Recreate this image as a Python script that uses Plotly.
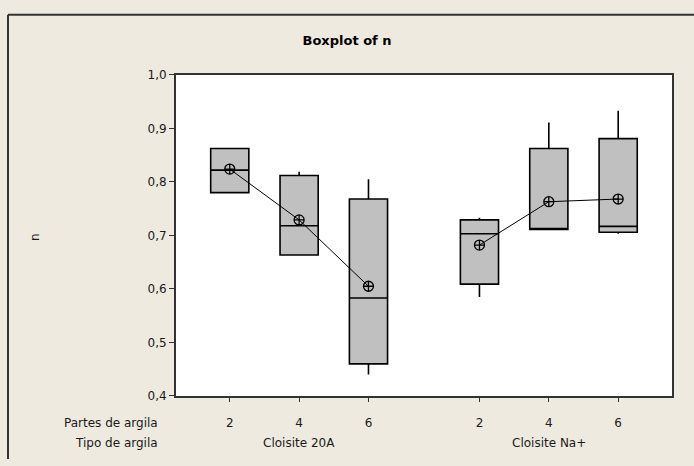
import plotly.graph_objects as go

# Data
group_names = ["Cloisite 20A", "Cloisite Na+"]
partes = ["2", "4", "6", "2", "4", "6"]
positions = [0, 1, 2, 3.6, 4.6, 5.6]
q1 = [0.780, 0.6635, 0.460, 0.609, 0.711, 0.706]
median = [0.822, 0.718, 0.583, 0.703, 0.713, 0.717]
q3 = [0.8625, 0.812, 0.768, 0.729, 0.8625, 0.881]
lower = [0.780, 0.6635, 0.440, 0.585, 0.711, 0.703]
upper = [0.8625, 0.819, 0.805, 0.733, 0.911, 0.933]
means = [0.824, 0.729, 0.605, 0.682, 0.763, 0.768]
y_ticks = [0.4, 0.5, 0.6, 0.7, 0.8, 0.9, 1.0]

W, H = 694, 466
FONT = "DejaVu Sans"
FS = 12
BG = "#EEEAE0"
TXT = "#1a1a1a"

fig = go.Figure()
fig.add_trace(go.Box(
    x=positions, q1=q1, median=median, q3=q3,
    lowerfence=lower, upperfence=upper,
    width=0.55, whiskerwidth=0,
    fillcolor="#C0C0C0", line=dict(color="black", width=1.6),
    boxpoints=False, showlegend=False, hoverinfo="skip",
))
for g in range(2):
    xs = positions[3 * g:3 * g + 3]
    ys = means[3 * g:3 * g + 3]
    fig.add_trace(go.Scatter(
        x=xs, y=ys, mode="lines+markers",
        line=dict(color="black", width=1),
        marker=dict(symbol="circle-cross-open", size=10, color="black",
                    line=dict(width=1.3, color="black")),
        showlegend=False, hoverinfo="skip",
    ))

x0_px, x1_px = 176, 672
y0_px, y1_px = 70, 401
fig.update_layout(
    width=W, height=H,
    margin=dict(l=0, r=0, t=0, b=0),
    paper_bgcolor=BG, plot_bgcolor="white",
    separators=",.",
    font=dict(family=FONT, size=FS, color=TXT),
    title=dict(text="<b>Boxplot of n</b>", x=0.5, xanchor="center",
               y=1 - 40 / H, yanchor="middle",
               font=dict(family=FONT, size=13, color="black")),
    xaxis=dict(domain=[x0_px / W, x1_px / W], range=[-0.775, 6.376],
               tickvals=positions, ticktext=partes, ticks="outside",
               ticklen=4, tickcolor="#333", showgrid=False, zeroline=False,
               ticklabelstandoff=11,
               showline=True, linecolor="#333", linewidth=2, mirror=True),
    yaxis=dict(domain=[1 - y1_px / H, 1 - y0_px / H], range=[0.4, 1.0],
               tickvals=y_ticks, tickformat=".1f", ticks="outside",
               ticklen=5, tickcolor="#333", showgrid=False, zeroline=False,
               showline=True, linecolor="#333", linewidth=2, mirror=True),
)

anns = [
    dict(text="n", x=35 / W, y=1 - 237 / H, textangle=-90),
    dict(text="Partes de argila", x=160 / W, y=1 - 429 / H, xanchor="right"),
    dict(text="Tipo de argila", x=160 / W, y=1 - 449 / H, xanchor="right"),
]
for a in anns:
    a.setdefault("xanchor", "center")
    fig.add_annotation(xref="paper", yref="paper", yanchor="middle",
                       showarrow=False, font=dict(family=FONT, size=FS, color=TXT),
                       **a)
for g, name in enumerate(group_names):
    fig.add_annotation(xref="x", yref="paper", x=positions[3 * g + 1],
                       y=1 - 449 / H, yanchor="middle", text=name,
                       showarrow=False, font=dict(family=FONT, size=FS, color=TXT))

# outer frame (left and top edges)
fig.add_shape(type="line", xref="paper", yref="paper", x0=8 / W, x1=8 / W,
              y0=0, y1=1 - 8 / H, line=dict(color="#333", width=2))
fig.add_shape(type="line", xref="paper", yref="paper", x0=8 / W, x1=1,
              y0=1 - 8 / H, y1=1 - 8 / H, line=dict(color="#333", width=2))

fig.write_html("out.html")
